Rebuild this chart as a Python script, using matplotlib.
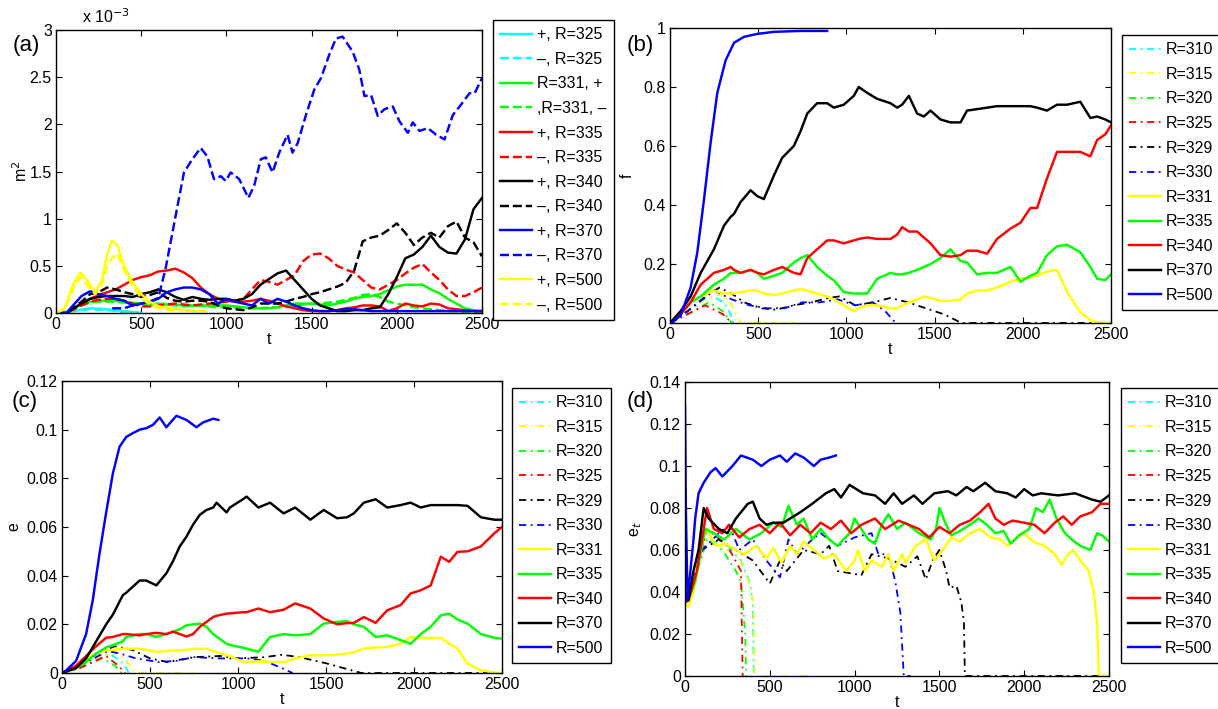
import matplotlib
matplotlib.use("Agg")
import matplotlib.pyplot as plt

plt.rcParams['font.family'] = ['Liberation Sans', 'DejaVu Sans']
plt.rcParams['font.size'] = 11

# ---------------- panel (a): m^2 (units of 1e-3) ----------------
ta_c = [0, 100, 200, 300, 400, 500]
a_cyan_p = [0, 0.02, 0.05, 0.04, 0.02, 0.0]
a_cyan_m = [0, 0.02, 0.04, 0.03, 0.01, 0.0]

ta = [0, 60, 150, 200, 250, 300, 350, 400, 450, 500, 550, 600, 650, 700, 750, 800, 850, 900,
      950, 1000, 1050, 1100, 1150, 1200, 1250, 1300, 1350, 1400, 1450, 1500, 1550, 1600, 1650,
      1700, 1750, 1800, 1850, 1900, 1950, 2000, 2050, 2100, 2150, 2200, 2250, 2300, 2350, 2400,
      2450, 2500]
a_green_p = [0, 0, 0.10, 0.12, 0.13, 0.13, 0.13, 0.12, 0.11, 0.10, 0.10, 0.10, 0.09, 0.09, 0.08,
             0.08, 0.08, 0.08, 0.08, 0.08, 0.07, 0.06, 0.05, 0.05, 0.05, 0.06, 0.08, 0.10, 0.10,
             0.10, 0.09, 0.08, 0.10, 0.12, 0.15, 0.17, 0.18, 0.20, 0.24, 0.28, 0.30, 0.30, 0.30,
             0.25, 0.21, 0.15, 0.10, 0.05, 0.03, 0.02]
a_green_m = [0, 0, 0.08, 0.11, 0.12, 0.12, 0.12, 0.11, 0.10, 0.09, 0.08, 0.09, 0.10, 0.08, 0.07,
             0.08, 0.08, 0.07, 0.06, 0.06, 0.06, 0.06, 0.05, 0.05, 0.06, 0.06, 0.07, 0.08, 0.09,
             0.10, 0.10, 0.11, 0.12, 0.14, 0.16, 0.19, 0.20, 0.17, 0.12, 0.10, 0.08, 0.06, 0.05,
             0.04, 0.03, 0.02, 0.02, 0.01, 0.01, 0.01]
a_red_p = [0, 0, 0.10, 0.15, 0.19, 0.22, 0.25, 0.30, 0.35, 0.38, 0.40, 0.44, 0.45, 0.47, 0.43,
           0.37, 0.27, 0.20, 0.15, 0.13, 0.12, 0.12, 0.13, 0.15, 0.13, 0.10, 0.07, 0.05, 0.03,
           0.02, 0.02, 0.02, 0.03, 0.05, 0.06, 0.08, 0.08, 0.07, 0.02, 0.05, 0.10, 0.08, 0.07,
           0.10, 0.09, 0.05, 0.04, 0.03, 0.02, 0.02]
a_red_m = [0, 0, 0.08, 0.12, 0.14, 0.15, 0.15, 0.13, 0.10, 0.07, 0.07, 0.08, 0.09, 0.10, 0.09,
           0.08, 0.09, 0.10, 0.11, 0.12, 0.13, 0.15, 0.25, 0.35, 0.33, 0.30, 0.35, 0.40, 0.55,
           0.62, 0.63, 0.58, 0.50, 0.46, 0.43, 0.35, 0.27, 0.25, 0.30, 0.35, 0.42, 0.48, 0.52,
           0.43, 0.35, 0.25, 0.18, 0.18, 0.22, 0.27]
a_black_p = [0, 0, 0.10, 0.15, 0.17, 0.18, 0.18, 0.18, 0.17, 0.20, 0.22, 0.25, 0.22, 0.17, 0.14,
             0.17, 0.15, 0.14, 0.15, 0.15, 0.13, 0.15, 0.20, 0.30, 0.36, 0.42, 0.45, 0.35, 0.25,
             0.15, 0.08, 0.05, 0.02, 0.02, 0.03, 0.03, 0.05, 0.06, 0.20, 0.38, 0.58, 0.62, 0.70,
             0.82, 0.70, 0.64, 0.63, 0.78, 1.10, 1.22]
a_black_m = [0, 0, 0.12, 0.20, 0.22, 0.27, 0.25, 0.22, 0.20, 0.17, 0.19, 0.22, 0.16, 0.13, 0.12,
             0.13, 0.13, 0.12, 0.08, 0.05, 0.04, 0.03, 0.06, 0.10, 0.10, 0.10, 0.12, 0.15, 0.17,
             0.20, 0.22, 0.25, 0.28, 0.32, 0.45, 0.76, 0.80, 0.82, 0.88, 0.95, 0.85, 0.72, 0.80,
             0.85, 0.80, 0.92, 0.97, 0.80, 0.75, 0.60]
a_blue_p = [0, 0, 0.18, 0.23, 0.20, 0.18, 0.15, 0.13, 0.08, 0.10, 0.12, 0.15, 0.22, 0.25, 0.27,
            0.27, 0.25, 0.20, 0.10, 0.15, 0.12, 0.10, 0.08, 0.15, 0.10, 0.15, 0.12, 0.08, 0.05,
            0.03, 0.02, 0.02, 0.03, 0.04, 0.04, 0.03, 0.02, 0.02, 0.02, 0.02, 0.02, 0.02, 0.02,
            0.02, 0.02, 0.02, 0.02, 0.02, 0.02, 0.02]
tam = [330, 400, 450, 500, 550, 600, 643, 702, 751, 800, 849, 888, 927, 967, 996, 1025, 1075,
       1129, 1163, 1202, 1231, 1271, 1310, 1359, 1388, 1418, 1467, 1516, 1555, 1604, 1643, 1682,
       1741, 1780, 1810, 1849, 1888, 1927, 1976, 2016, 2065, 2094, 2133, 2182, 2231, 2280, 2329,
       2369, 2427, 2457, 2500]
a_blue_m = [0.05, 0.05, 0.08, 0.10, 0.12, 0.16, 0.47, 1.03, 1.49, 1.63, 1.75, 1.66, 1.42, 1.45,
            1.40, 1.49, 1.42, 1.22, 1.35, 1.63, 1.65, 1.49, 1.70, 1.89, 1.70, 1.80, 2.10, 2.37,
            2.49, 2.74, 2.91, 2.93, 2.77, 2.58, 2.30, 2.31, 2.09, 2.16, 2.19, 2.03, 1.91, 2.02,
            1.93, 1.96, 1.89, 1.84, 2.10, 2.19, 2.33, 2.33, 2.49]
tay = [0, 50, 100, 143, 180, 231, 270, 300, 329, 359, 400, 450, 506, 550, 604, 680, 741, 800, 880]
a_yel_p = [0, 0.05, 0.30, 0.43, 0.35, 0.22, 0.35, 0.62, 0.77, 0.72, 0.50, 0.32, 0.19, 0.12, 0.07,
           0.05, 0.03, 0.02, 0.02]
tay_m = [0, 50, 100, 143, 180, 231, 270, 300, 329, 359, 400, 450, 506, 550, 604, 680, 741]
a_yel_m = [0, 0.04, 0.25, 0.38, 0.30, 0.20, 0.30, 0.50, 0.58, 0.63, 0.45, 0.28, 0.15, 0.09, 0.05,
           0.03, 0.02]

# ---------------- panel (b): f ----------------
tb_310 = [0, 100, 200, 250, 300, 330, 360]
b_310 = [0, 0.04, 0.08, 0.09, 0.07, 0.05, 0]
tb_315 = [0, 100, 200, 300, 350, 400, 750]
b_315 = [0, 0.04, 0.08, 0.10, 0.06, 0, 0]
tb_320 = [0, 100, 220, 300, 350]
b_320 = [0, 0.03, 0.07, 0.04, 0]
tb_325 = [0, 100, 200, 300, 350]
b_325 = [0, 0.03, 0.06, 0.03, 0]
tb_329 = [0, 100, 200, 280, 350, 420, 520, 600, 700, 800, 900, 960, 1050, 1150, 1250, 1350,
          1450, 1550, 1620, 1650, 2500]
b_329 = [0, 0.04, 0.09, 0.12, 0.10, 0.07, 0.05, 0.045, 0.06, 0.07, 0.085, 0.09, 0.06, 0.07,
         0.085, 0.07, 0.05, 0.03, 0.01, 0, 0]
tb_330 = [0, 100, 250, 350, 450, 550, 650, 750, 850, 950, 1050, 1150, 1220, 1280]
b_330 = [0, 0.04, 0.11, 0.08, 0.06, 0.05, 0.05, 0.07, 0.07, 0.08, 0.06, 0.07, 0.04, 0]

tb = [0, 60, 117, 174, 249, 306, 344, 363, 400, 457, 495, 532, 589, 636, 702, 740, 778, 834,
      891, 929, 985, 1042, 1070, 1118, 1174, 1250, 1288, 1316, 1354, 1401, 1439, 1477, 1533,
      1590, 1647, 1684, 1741, 1798, 1854, 1930, 1987, 2043, 2081, 2137, 2194, 2251, 2326, 2383,
      2421, 2468, 2500]
b_331 = [0, 0.03, 0.07, 0.09, 0.11, 0.10, 0.10, 0.10, 0.105, 0.11, 0.11, 0.10, 0.095, 0.10,
         0.11, 0.115, 0.11, 0.10, 0.09, 0.08, 0.06, 0.04, 0.05, 0.06, 0.06, 0.05, 0.05, 0.06,
         0.07, 0.08, 0.09, 0.085, 0.075, 0.075, 0.08, 0.10, 0.11, 0.11, 0.12, 0.14, 0.15, 0.155,
         0.16, 0.175, 0.18, 0.105, 0.037, 0.01, 0.003, 0, 0]
b_335 = [0, 0.03, 0.07, 0.09, 0.13, 0.15, 0.17, 0.17, 0.17, 0.18, 0.17, 0.15, 0.16, 0.17, 0.205,
         0.22, 0.23, 0.19, 0.16, 0.145, 0.105, 0.10, 0.10, 0.10, 0.15, 0.17, 0.165, 0.165, 0.17,
         0.18, 0.19, 0.20, 0.22, 0.25, 0.21, 0.205, 0.165, 0.17, 0.17, 0.19, 0.14, 0.16, 0.17,
         0.23, 0.26, 0.265, 0.24, 0.19, 0.15, 0.145, 0.165]
b_340 = [0, 0.03, 0.07, 0.13, 0.17, 0.18, 0.19, 0.18, 0.17, 0.18, 0.17, 0.165, 0.18, 0.19, 0.17,
         0.165, 0.22, 0.25, 0.28, 0.28, 0.27, 0.28, 0.285, 0.29, 0.285, 0.285, 0.30, 0.325, 0.31,
         0.31, 0.29, 0.27, 0.23, 0.225, 0.23, 0.245, 0.245, 0.235, 0.285, 0.32, 0.34, 0.39, 0.39,
         0.49, 0.58, 0.58, 0.58, 0.565, 0.62, 0.64, 0.67]
b_370 = [0, 0.04, 0.09, 0.17, 0.25, 0.33, 0.36, 0.37, 0.41, 0.45, 0.43, 0.42, 0.50, 0.56, 0.60,
         0.65, 0.71, 0.745, 0.745, 0.73, 0.74, 0.77, 0.80, 0.78, 0.76, 0.745, 0.73, 0.74, 0.77,
         0.71, 0.70, 0.72, 0.69, 0.68, 0.68, 0.72, 0.725, 0.73, 0.735, 0.735, 0.735, 0.735,
         0.73, 0.72, 0.74, 0.74, 0.75, 0.695, 0.70, 0.69, 0.68]
tb5 = [0, 20, 60, 117, 155, 193, 230, 268, 315, 363, 419, 495, 589, 740, 891]
b_500 = [0, 0.005, 0.026, 0.12, 0.24, 0.42, 0.61, 0.78, 0.89, 0.95, 0.97, 0.98, 0.987, 0.99, 0.99]

# ---------------- panel (c): e ----------------
tc_310 = [0, 100, 200, 270, 350, 380]
c_310 = [0, 0.002, 0.006, 0.008, 0.004, 0]
tc_315 = [0, 100, 200, 300, 370, 420, 750]
c_315 = [0, 0.002, 0.006, 0.009, 0.0045, 0, 0]
tc_320 = [0, 100, 230, 300, 340]
c_320 = [0, 0.002, 0.006, 0.003, 0]
tc_325 = [0, 100, 250, 320, 360]
c_325 = [0, 0.002, 0.007, 0.003, 0]
tc_329 = [0, 100, 200, 300, 400, 500, 600, 750, 900, 1000, 1150, 1250, 1350, 1500, 1650, 1700,
          2500]
c_329 = [0, 0.003, 0.008, 0.011, 0.0095, 0.006, 0.0045, 0.0065, 0.007, 0.006, 0.0065, 0.0075,
         0.0065, 0.004, 0.001, 0, 0]
tc_330 = [0, 100, 260, 330, 420, 550, 650, 750, 900, 1050, 1150, 1250, 1310]
c_330 = [0, 0.003, 0.009, 0.008, 0.006, 0.0045, 0.005, 0.0065, 0.006, 0.006, 0.005, 0.002, 0]

tc = [0, 80, 137, 194, 251, 289, 346, 365, 441, 479, 536, 593, 631, 669, 707, 745, 783, 821,
      859, 878, 935, 954, 1030, 1049, 1116, 1182, 1259, 1325, 1411, 1487, 1563, 1620, 1658,
      1715, 1782, 1848, 1924, 1981, 2038, 2095, 2152, 2200, 2247, 2304, 2380, 2456, 2500]
c_331 = [0, 0.002, 0.006, 0.008, 0.0093, 0.0095, 0.010, 0.010, 0.010, 0.0095, 0.0087, 0.009,
         0.0093, 0.0093, 0.0095, 0.010, 0.010, 0.010, 0.009, 0.0085, 0.0073, 0.007, 0.0045,
         0.0045, 0.0048, 0.0046, 0.0045, 0.006, 0.0073, 0.0073, 0.0075, 0.008, 0.0085, 0.010,
         0.0105, 0.0107, 0.012, 0.0148, 0.0145, 0.0144, 0.0144, 0.012, 0.010, 0.0038, 0.0011,
         0.0002, 0]
c_335 = [0, 0.002, 0.0045, 0.008, 0.0105, 0.0114, 0.013, 0.0148, 0.016, 0.016, 0.0148, 0.016,
         0.0169, 0.018, 0.0196, 0.020, 0.0203, 0.019, 0.016, 0.015, 0.012, 0.0115, 0.0104, 0.010,
         0.0087, 0.0148, 0.016, 0.0155, 0.016, 0.0203, 0.021, 0.0213, 0.020, 0.019, 0.0148,
         0.0155, 0.0135, 0.012, 0.016, 0.019, 0.0237, 0.0244, 0.022, 0.0203, 0.016, 0.0145,
         0.0141]
c_340 = [0, 0.003, 0.007, 0.011, 0.0145, 0.0148, 0.016, 0.016, 0.0155, 0.016, 0.0165, 0.016,
         0.017, 0.016, 0.015, 0.016, 0.019, 0.021, 0.023, 0.0235, 0.0244, 0.0245, 0.025, 0.025,
         0.0265, 0.025, 0.026, 0.0286, 0.0265, 0.0224, 0.020, 0.0205, 0.0206, 0.023, 0.0206,
         0.0258, 0.0279, 0.0327, 0.034, 0.036, 0.0478, 0.0457, 0.0498, 0.050, 0.052, 0.0574,
         0.060]
c_370 = [0, 0.002, 0.006, 0.013, 0.020, 0.024, 0.032, 0.033, 0.038, 0.038, 0.036, 0.041, 0.046,
         0.052, 0.056, 0.061, 0.065, 0.067, 0.068, 0.070, 0.066, 0.068, 0.0715, 0.0725, 0.068,
         0.070, 0.0656, 0.068, 0.063, 0.067, 0.0636, 0.064, 0.0656, 0.070, 0.0714, 0.068, 0.069,
         0.070, 0.068, 0.069, 0.069, 0.069, 0.069, 0.0687, 0.064, 0.063, 0.063]
tc5 = [0, 23, 80, 137, 175, 213, 251, 289, 327, 365, 403, 441, 479, 517, 555, 593, 650, 707, 764,
       802, 859, 888]
c_500 = [0, 0.001, 0.005, 0.016, 0.030, 0.049, 0.066, 0.082, 0.093, 0.097, 0.0986, 0.100,
         0.1006, 0.102, 0.105, 0.101, 0.1057, 0.104, 0.101, 0.103, 0.1045, 0.104]

# ---------------- panel (d): e_t ----------------
td_310 = [0, 20, 120, 250, 330, 380, 400, 405]
d_310 = [0.035, 0.036, 0.065, 0.062, 0.055, 0.045, 0.035, 0]
td_315 = [0, 20, 120, 250, 320, 390, 405, 410, 750]
d_315 = [0.035, 0.036, 0.065, 0.060, 0.056, 0.042, 0.030, 0, 0]
td_320 = [0, 20, 130, 220, 300, 330, 355, 360]
d_320 = [0.035, 0.036, 0.065, 0.060, 0.050, 0.045, 0.020, 0]
td_325 = [0, 20, 130, 250, 330, 340]
d_325 = [0.035, 0.036, 0.070, 0.062, 0.050, 0]
td_329 = [0, 20, 100, 200, 300, 400, 500, 560, 600, 700, 800, 850, 900, 1040, 1100, 1200,
          1300, 1370, 1420, 1460, 1500, 1540, 1560, 1600, 1630, 1645, 1650, 2500]
d_329 = [0.036, 0.036, 0.060, 0.065, 0.060, 0.055, 0.044, 0.055, 0.050, 0.060, 0.058, 0.062,
         0.050, 0.048, 0.058, 0.056, 0.052, 0.057, 0.046, 0.055, 0.060, 0.050, 0.042, 0.043,
         0.035, 0.025, 0, 0]
td_330 = [0, 20, 100, 200, 260, 320, 400, 480, 560, 610, 660, 750, 800, 900, 1000, 1100, 1140,
          1200, 1240, 1270, 1290, 1330]
d_330 = [0.036, 0.036, 0.060, 0.068, 0.072, 0.060, 0.065, 0.055, 0.047, 0.065, 0.058, 0.065,
         0.068, 0.062, 0.066, 0.068, 0.058, 0.058, 0.045, 0.030, 0, 0]

td_331 = [0, 20, 50, 100, 130, 180, 240, 300, 350, 420, 480, 520, 570, 620, 660, 700, 760, 820,
          880, 950, 1000, 1020, 1060, 1100, 1160, 1200, 1230, 1280, 1300, 1360, 1420, 1470, 1520,
          1570, 1620, 1680, 1740, 1800, 1860, 1900, 1960, 2000, 2050, 2120, 2180, 2220, 2260,
          2290, 2340, 2380, 2410, 2430, 2440, 2500]
d_331 = [0.034, 0.033, 0.040, 0.065, 0.070, 0.062, 0.063, 0.060, 0.058, 0.062, 0.056, 0.061,
         0.054, 0.062, 0.058, 0.064, 0.060, 0.056, 0.058, 0.050, 0.055, 0.060, 0.050, 0.055,
         0.052, 0.058, 0.050, 0.058, 0.054, 0.062, 0.065, 0.055, 0.060, 0.066, 0.064, 0.068,
         0.070, 0.066, 0.065, 0.062, 0.066, 0.068, 0.064, 0.062, 0.058, 0.053, 0.058, 0.060,
         0.054, 0.050, 0.040, 0.025, 0, 0]
td_335 = [0, 20, 60, 120, 170, 230, 300, 380, 450, 520, 570, 610, 660, 700, 750, 800, 850, 900,
          970, 1000, 1080, 1120, 1160, 1200, 1250, 1300, 1380, 1450, 1480, 1500, 1540, 1570,
          1620, 1680, 1730, 1780, 1830, 1880, 1920, 1970, 2030, 2070, 2110, 2150, 2190, 2240,
          2280, 2330, 2390, 2430, 2460, 2500]
d_335 = [0.035, 0.036, 0.045, 0.070, 0.068, 0.065, 0.070, 0.065, 0.068, 0.073, 0.071, 0.081,
         0.072, 0.075, 0.065, 0.070, 0.065, 0.062, 0.068, 0.075, 0.065, 0.063, 0.072, 0.077,
         0.070, 0.073, 0.068, 0.065, 0.070, 0.080, 0.072, 0.067, 0.069, 0.072, 0.075, 0.072,
         0.068, 0.069, 0.063, 0.067, 0.070, 0.080, 0.078, 0.084, 0.075, 0.068, 0.065, 0.062,
         0.060, 0.068, 0.067, 0.064]
td_340 = [0, 20, 70, 130, 170, 220, 260, 320, 380, 440, 500, 560, 620, 680, 740, 800, 860, 920,
          980, 1040, 1120, 1180, 1260, 1320, 1380, 1440, 1500, 1560, 1620, 1680, 1740, 1790,
          1830, 1880, 1930, 2000, 2060, 2120, 2180, 2230, 2280, 2330, 2400, 2450, 2500]
d_340 = [0.035, 0.036, 0.050, 0.080, 0.070, 0.068, 0.072, 0.066, 0.070, 0.072, 0.068, 0.073,
         0.067, 0.072, 0.068, 0.073, 0.070, 0.074, 0.068, 0.072, 0.075, 0.070, 0.074, 0.072,
         0.070, 0.066, 0.071, 0.068, 0.072, 0.074, 0.078, 0.082, 0.075, 0.072, 0.074, 0.073,
         0.072, 0.068, 0.073, 0.076, 0.072, 0.076, 0.078, 0.082, 0.082]
td_370 = [0, 20, 50, 80, 110, 140, 200, 250, 300, 370, 400, 440, 480, 520, 580, 620, 680, 750,
          830, 880, 920, 970, 1050, 1120, 1180, 1230, 1280, 1350, 1400, 1470, 1550, 1600, 1660,
          1700, 1770, 1830, 1900, 1950, 2000, 2050, 2100, 2200, 2300, 2400, 2450, 2500]
d_370 = [0.040, 0.036, 0.050, 0.060, 0.080, 0.075, 0.070, 0.068, 0.075, 0.082, 0.083, 0.075,
         0.072, 0.073, 0.073, 0.075, 0.078, 0.082, 0.087, 0.089, 0.085, 0.091, 0.087, 0.086,
         0.082, 0.087, 0.082, 0.086, 0.082, 0.087, 0.088, 0.086, 0.090, 0.088, 0.092, 0.088,
         0.087, 0.085, 0.089, 0.086, 0.087, 0.086, 0.087, 0.084, 0.083, 0.086]
td_500 = [0, 5, 15, 50, 60, 80, 110, 150, 180, 220, 280, 330, 400, 450, 500, 560, 600, 650, 700,
          760, 800, 850, 890]
d_500 = [0.129, 0.080, 0.036, 0.065, 0.075, 0.087, 0.092, 0.097, 0.099, 0.095, 0.100, 0.105,
         0.103, 0.100, 0.103, 0.105, 0.102, 0.106, 0.104, 0.100, 0.103, 0.104, 0.105]

# ---------------- drawing ----------------
W, H = 1218, 709
fig = plt.figure(figsize=(W / 100, H / 100), dpi=100)

def ax_px(l, t, r, b):
    return fig.add_axes([l / W, 1 - b / H, (r - l) / W, (b - t) / H])

def style(ax, xlim, ylim, yticks, yticklabels=None):
    ax.set_xlim(*xlim)
    ax.set_ylim(*ylim)
    ax.set_xticks([0, 500, 1000, 1500, 2000, 2500])
    ax.set_yticks(yticks)
    if yticklabels is not None:
        ax.set_yticklabels(yticklabels)
    ax.tick_params(direction='in', top=True, right=True, length=4, width=0.8, labelsize=11.5,
                   pad=3)
    for s in ax.spines.values():
        s.set_linewidth(1.0)

LW = 1.75
DD = (0, (4, 2.5, 1, 2.5))
cols = dict(c=(0, 1, 1), y=(1, 1, 0), g=(0, 1, 0), r=(1, 0, 0), k=(0, 0, 0), b=(0, 0, 1))

# (a)
axa = ax_px(56, 30, 482, 313)
axa.plot(ta_c, a_cyan_p, '-', color=cols['c'], lw=LW, label='+, R=325')
axa.plot(ta_c, a_cyan_m, '--', color=cols['c'], lw=LW, label='\u2013, R=325')
axa.plot(ta, a_green_p, '-', color=cols['g'], lw=LW, label='R=331, +')
axa.plot(ta, a_green_m, '--', color=cols['g'], lw=LW, label=',R=331, \u2013')
axa.plot(ta, a_red_p, '-', color=cols['r'], lw=LW, label='+, R=335')
axa.plot(ta, a_red_m, '--', color=cols['r'], lw=LW, label='\u2013, R=335')
axa.plot(ta, a_black_p, '-', color=cols['k'], lw=LW, label='+, R=340')
axa.plot(ta, a_black_m, '--', color=cols['k'], lw=LW, label='\u2013, R=340')
axa.plot(ta, a_blue_p, '-', color=cols['b'], lw=LW, label='+, R=370')
axa.plot(tam, a_blue_m, '--', color=cols['b'], lw=LW, label='\u2013, R=370')
axa.plot(tay, a_yel_p, '-', color=cols['y'], lw=LW, label='+, R=500')
axa.plot(tay_m, a_yel_m, '--', color=cols['y'], lw=LW, label='\u2013, R=500')
style(axa, (0, 2500), (0, 3), [0, 0.5, 1, 1.5, 2, 2.5, 3],
      ['0', '0.5', '1', '1.5', '2', '2.5', '3'])
axa.set_xlabel('t', fontsize=11.5, labelpad=0)
axa.set_ylabel('m$^2$', fontsize=11.5, labelpad=0)
fig.text(82 / W, 1 - 17 / H, 'x 10$^{-3}$', fontsize=11.5, ha='left', va='center')
fig.text(13 / W, 1 - 46 / H, '(a)', fontsize=16, ha='left', va='center')

def legend(ax, x, y):
    lg = ax.legend(loc='upper left', bbox_to_anchor=(x / W, 1 - y / H),
                   bbox_transform=fig.transFigure, fancybox=False, framealpha=1,
                   edgecolor='black', fontsize=11.5, handlelength=2.0, handletextpad=0.3,
                   labelspacing=0.6, borderpad=0.45, borderaxespad=0)
    lg.get_frame().set_linewidth(1.0)
    return lg

legend(axa, 493, 20)

def draw_bcd(ax, dash, solid):
    names = ['R=310', 'R=315', 'R=320', 'R=325', 'R=329', 'R=330']
    ccs = ['c', 'y', 'g', 'r', 'k', 'b']
    for (tt, vv), n, c in zip(dash, names, ccs):
        ax.plot(tt, vv, linestyle=DD, color=cols[c], lw=1.3, label=n)
    names2 = ['R=331', 'R=335', 'R=340', 'R=370', 'R=500']
    ccs2 = ['y', 'g', 'r', 'k', 'b']
    for (tt, vv), n, c in zip(solid, names2, ccs2):
        ax.plot(tt, vv, '-', color=cols[c], lw=LW, label=n)

# (b)
axb = ax_px(670, 28, 1111, 323)
draw_bcd(axb,
         [(tb_310, b_310), (tb_315, b_315), (tb_320, b_320), (tb_325, b_325),
          (tb_329, b_329), (tb_330, b_330)],
         [(tb, b_331), (tb, b_335), (tb, b_340), (tb, b_370), (tb5, b_500)])
style(axb, (0, 2500), (0, 1), [0, 0.2, 0.4, 0.6, 0.8, 1], ['0', '0.2', '0.4', '0.6', '0.8', '1'])
axb.set_xlabel('t', fontsize=11.5, labelpad=0)
axb.set_ylabel('f', fontsize=11.5, labelpad=6)
fig.text(627 / W, 1 - 46 / H, '(b)', fontsize=16, ha='left', va='center')
legend(axb, 1122, 35)

# (c)
axc = ax_px(62, 381, 502, 673)
draw_bcd(axc,
         [(tc_310, c_310), (tc_315, c_315), (tc_320, c_320), (tc_325, c_325),
          (tc_329, c_329), (tc_330, c_330)],
         [(tc, c_331), (tc, c_335), (tc, c_340), (tc, c_370), (tc5, c_500)])
style(axc, (0, 2500), (0, 0.12), [0, 0.02, 0.04, 0.06, 0.08, 0.1, 0.12],
      ['0', '0.02', '0.04', '0.06', '0.08', '0.1', '0.12'])
axc.set_xlabel('t', fontsize=11.5, labelpad=0)
axc.set_ylabel('e', fontsize=11.5, labelpad=4)
fig.text(12 / W, 1 - 401 / H, '(c)', fontsize=16, ha='left', va='center')
legend(axc, 512, 388)

# (d)
axd = ax_px(685, 382, 1109, 676)
draw_bcd(axd,
         [(td_310, d_310), (td_315, d_315), (td_320, d_320), (td_325, d_325),
          (td_329, d_329), (td_330, d_330)],
         [(td_331, d_331), (td_335, d_335), (td_340, d_340), (td_370, d_370),
          (td_500, d_500)])
style(axd, (0, 2500), (0, 0.14), [0, 0.02, 0.04, 0.06, 0.08, 0.1, 0.12, 0.14],
      ['0', '0.02', '0.04', '0.06', '0.08', '0.1', '0.12', '0.14'])
axd.set_xlabel('t', fontsize=11.5, labelpad=0)
axd.set_ylabel('e$_t$', fontsize=11.5, labelpad=4)
fig.text(627 / W, 1 - 402 / H, '(d)', fontsize=16, ha='left', va='center')
legend(axd, 1121, 388)

fig.savefig('out.png', dpi=100)
